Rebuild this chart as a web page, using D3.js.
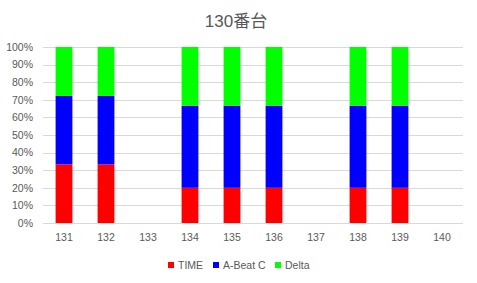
<!DOCTYPE html>
<html><head><meta charset="utf-8">
<script src="https://cdn.jsdelivr.net/npm/d3@7"></script>
<style>body{margin:0;background:#fff;} text{font-family:"Liberation Sans","Noto Sans CJK JP",sans-serif;fill:#595959;}</style>
</head><body>
<svg id="c" width="477" height="283"></svg>
<script>
const title = "130番台";
const categories = ["131","132","133","134","135","136","137","138","139","140"];
const seriesNames = ["TIME","A-Beat C","Delta"];
const colors = ["#FF0000","#0000FF","#00FF00"];
const timeVals  = [33.3, 33.3, 0, 20, 20, 20, 0, 20, 20, 0];
const abeatVals = [38.9, 38.9, 0, 46.7, 46.7, 46.7, 0, 46.7, 46.7, 0];
const deltaVals = [27.8, 27.8, 0, 33.3, 33.3, 33.3, 0, 33.3, 33.3, 0];
const yTicks = [0,0.1,0.2,0.3,0.4,0.5,0.6,0.7,0.8,0.9,1];

const svg = d3.select("#c");
const m = {l:43, r:14, t:47, b:60};
const W = 477, H = 283;
const x = d3.scaleBand().domain(categories).range([m.l, W-m.r]).paddingInner(0.6).paddingOuter(0.3);
const y = d3.scaleLinear().domain([0,1]).range([223, 47]);

const rows = categories.map((c,i)=>({cat:c, TIME:timeVals[i], "A-Beat C":abeatVals[i], Delta:deltaVals[i]}));
const stack = d3.stack().keys(seriesNames).offset(d3.stackOffsetExpand);
const layers = stack(rows);

// gridlines
svg.append("g").selectAll("line").data(yTicks).join("line")
  .attr("x1", m.l).attr("x2", W-m.r)
  .attr("y1", d=>Math.round(y(d))+0.5).attr("y2", d=>Math.round(y(d))+0.5)
  .attr("stroke","#D9D9D9").attr("stroke-width",1);

// bars
svg.append("g").selectAll("g").data(layers).join("g")
  .attr("fill",(d,i)=>colors[i])
  .selectAll("rect").data(d=>d.filter(p=>!isNaN(p[1]) && p[1]>p[0])).join("rect")
  .attr("x", d=>x(d.data.cat))
  .attr("width", x.bandwidth())
  .attr("y", d=>y(d[1]))
  .attr("height", d=>y(d[0])-y(d[1]));

// y axis
const ya = svg.append("g").attr("transform",`translate(${m.l},0)`)
  .call(d3.axisLeft(y).tickValues(yTicks).tickFormat(d3.format(".0%")).tickSize(0).tickPadding(10));
ya.select(".domain").remove();
ya.selectAll("text").attr("font-size","10.5px").style("fill","#595959");

// x axis
const xa = svg.append("g").attr("transform",`translate(0,223)`)
  .call(d3.axisBottom(x).tickSize(0).tickPadding(11));
xa.select(".domain").remove();
xa.selectAll("text").attr("font-size","10.5px").style("fill","#595959");

// title
svg.append("text").attr("x", 236).attr("y", 27).attr("text-anchor","middle")
  .attr("font-size","17px").text(title);

// legend
const legX = [168, 213, 275];
const lg = svg.append("g");
seriesNames.forEach((s,i)=>{
  lg.append("rect").attr("x",legX[i]).attr("y",262).attr("width",6).attr("height",6).attr("fill",colors[i]);
  lg.append("text").attr("x",legX[i]+10).attr("y",269).attr("font-size","10.5px").text(s);
});
</script>
</body></html>
